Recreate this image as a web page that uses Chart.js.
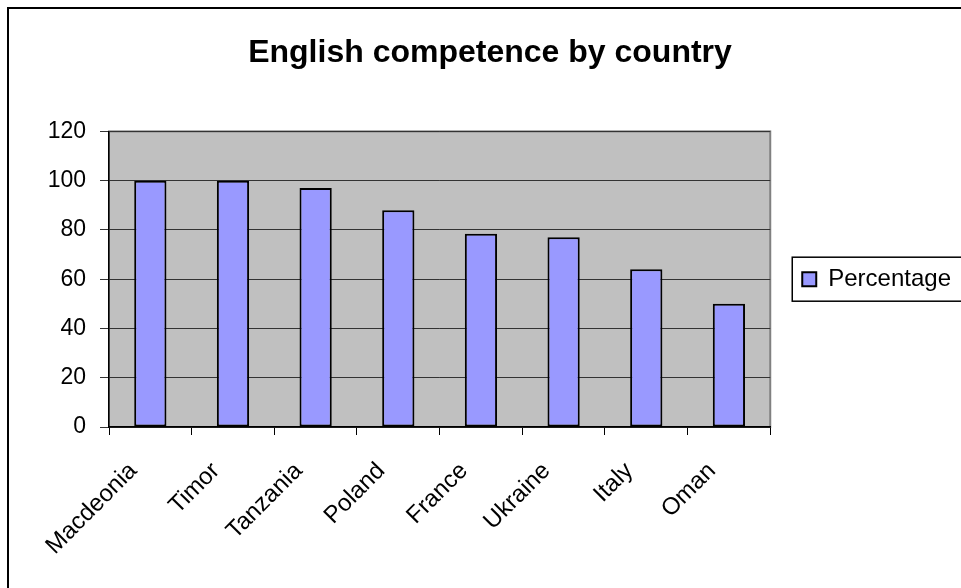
<!DOCTYPE html>
<html>
<head>
<meta charset="utf-8">
<script src="https://cdn.jsdelivr.net/npm/chart.js@4"></script>
<style>
  html, body { margin: 0; padding: 0; background: #fff; overflow: hidden; }
  #wrap { position: relative; width: 961px; height: 588px; }
  #frame { position: absolute; left: 7px; top: 7px; width: 2000px; height: 2000px;
           border-top: 2px solid #000; border-left: 2px solid #000; pointer-events: none; }
</style>
</head>
<body>
<div id="wrap">
  <canvas id="chart" width="961" height="588"></canvas>
  <div id="frame"></div>
</div>
<script>
const countries = ['Macdeonia', 'Timor', 'Tanzania', 'Poland', 'France', 'Ukraine', 'Italy', 'Oman']
const percentage = [100, 100, 97, 88, 78.5, 77, 64, 50]
const yTicks = [0, 20, 40, 60, 80, 100, 120]

const font = "'Liberation Sans', Arial, sans-serif"

// grey plot background with a thin border, like the old spreadsheet charts
const plotBackground = {
    id: 'plotBackground',
    beforeDraw(chart) {
        const { ctx, chartArea: a } = chart
        ctx.save()
        ctx.fillStyle = '#c0c0c0'
        ctx.fillRect(a.left, a.top, a.right - a.left, a.bottom - a.top)
        ctx.strokeStyle = '#808080'
        ctx.lineWidth = 2
        ctx.strokeRect(a.left, a.top, a.right - a.left, a.bottom - a.top)
        ctx.restore()
    }
}

// keep the legend centred on the plot, and box it
const legendBox = {
    id: 'legendBox',
    afterLayout(chart) {
        const l = chart.legend
        l.top = chart.chartArea.top
        l.bottom = chart.chartArea.bottom
        l.height = l.bottom - l.top
    },
    afterDraw(chart) {
        const hb = chart.legend.legendHitBoxes[0]
        if (!hb) return
        const { ctx } = chart
        const cy = hb.top + hb.height / 2
        ctx.save()
        ctx.strokeStyle = '#000'
        ctx.lineWidth = 1.5
        ctx.strokeRect(hb.left - 10, cy - 22, chart.width, 44)
        ctx.restore()
    }
}

new Chart(document.getElementById('chart'), {
    type: 'bar',
    data: {
        labels: countries,
        datasets: [{
            label: 'Percentage',
            data: percentage,
            backgroundColor: '#9999ff',
            borderColor: '#000',
            borderWidth: 2,
            borderSkipped: false,
            categoryPercentage: 1,
            barPercentage: 0.39
        }]
    },
    options: {
        responsive: false,
        animation: false,
        layout: { padding: { left: 19, right: 0, top: 0, bottom: 0 } },
        plugins: {
            tooltip: { enabled: false },
            title: {
                display: true,
                text: 'English competence by country',
                color: '#000',
                font: { family: font, size: 32, weight: 'bold' },
                padding: { top: 34, bottom: 59 }
            },
            legend: {
                position: 'right',
                labels: {
                    color: '#000',
                    font: { family: font, size: 24 },
                    boxWidth: 14,
                    boxHeight: 14,
                    padding: 32
                }
            }
        },
        scales: {
            x: {
                offset: true,
                grid: { display: true, drawOnChartArea: false, tickLength: 8, color: '#000', offset: true },
                border: { color: '#000', width: 1.5 },
                ticks: {
                    color: '#000',
                    font: { family: font, size: 24 },
                    minRotation: 45,
                    maxRotation: 45,
                    autoSkip: false,
                    padding: 22,
                    labelOffset: -17
                },
                afterFit(scale) { scale.height = 161 }
            },
            y: {
                min: 0,
                max: 120,
                afterBuildTicks(scale) { scale.ticks = yTicks.map(v => ({ value: v })) },
                grid: { color: '#333', tickLength: 9 },
                border: { color: '#000', width: 1.5 },
                ticks: {
                    color: '#000',
                    font: { family: font, size: 23 },
                    padding: 14
                },
                afterFit(scale) { scale.width = 90 }
            }
        }
    },
    plugins: [plotBackground, legendBox]
})
</script>
</body>
</html>
